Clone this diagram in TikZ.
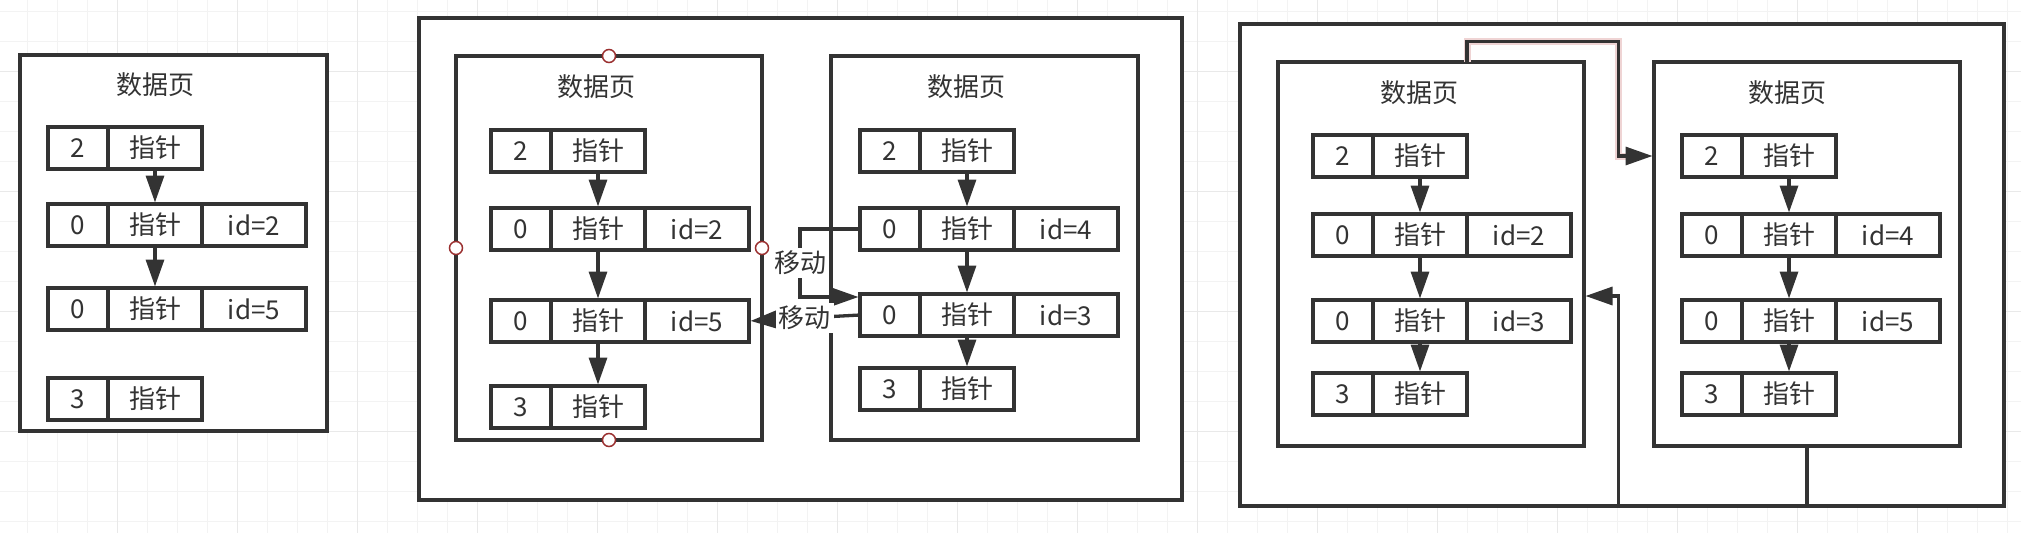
\documentclass[tikz,border=0pt]{standalone}
\usepackage{fontspec}
\setmainfont{Noto Sans CJK SC}
\usetikzlibrary{arrows.meta,positioning}
\definecolor{ink}{HTML}{333333}
\definecolor{gridlo}{HTML}{F3F3F3}
\definecolor{gridhi}{HTML}{E9E9E9}
\definecolor{hdlred}{HTML}{9A2F2F}
\definecolor{glowpink}{HTML}{EFD4D4}
\tikzset{%
    pagebox/.style={draw=ink, fill=white, line width=3.3pt, anchor=north west, inner sep=0pt, outer sep=0pt, minimum width=306pt, minimum height=384pt},
    cell/.style={draw=ink, line width=3.3pt, anchor=north west, inner sep=0pt, outer sep=0pt, minimum height=42pt, text=ink},
    numc/.style={cell, minimum width=60pt},
    ptrc/.style={cell, minimum width=94pt},
    idc/.style={cell, minimum width=104pt},
    hdl/.style={circle, draw=hdlred, fill=white, line width=1.5pt, minimum size=13pt, inner sep=0pt}
}

\begin{document}
\begin{tikzpicture}[x=1pt, y=-1pt,
            font=\fontsize{26pt}{30pt}\selectfont,
            ttl/.style={text=ink},
            lbl/.style={fill=white, text=ink, inner sep=3pt},
            arr/.style={draw=ink, line width=3.3pt, shorten >=1.5pt, -{Triangle[length=27pt,width=18pt]}},
            glow/.style={draw=glowpink, line width=7pt, shorten >=27pt},
            gminor/.style={draw=gridlo, line width=1.5pt},
            gmajor/.style={draw=gridhi, line width=1.5pt}
            ]
            \useasboundingbox (0,0) rectangle (2021,533);
            \fill[white] (0,0) rectangle (2021,533);
            % background grid
            \foreach \gx in {27.3,57.3,...,2021} \draw[gminor] (\gx,0) -- (\gx,533);
            \foreach \gy in {11.7,41.7,...,533} \draw[gminor] (0,\gy) -- (2021,\gy);
            \foreach \gx in {117.3,237.3,...,2021} \draw[gmajor] (\gx,0) -- (\gx,533);
            \foreach \gy in {71.7,191.7,...,533} \draw[gmajor] (0,\gy) -- (2021,\gy);

            % first page
            \node[pagebox, minimum width=307pt, minimum height=376pt] (p1) at (20,55){};
            \node[ttl] (p1t) at (155,85){数据页};
            \node[numc] (p1an) at (48,127){2};
            \node[ptrc, right=0pt of p1an] (p1ap){指针};
            \node[numc] (p1bn) at (48,204){0};
            \node[ptrc, right=0pt of p1bn] (p1bp){指针};
            \node[idc, right=0pt of p1bp] (p1bi){id=2};
            \node[numc] (p1cn) at (48,288){0};
            \node[ptrc, right=0pt of p1cn] (p1cp){指针};
            \node[idc, right=0pt of p1cp] (p1ci){id=5};
            \node[numc] (p1dn) at (48,378){3};
            \node[ptrc, right=0pt of p1dn] (p1dp){指针};
            \draw[arr] (p1ap) -- (p1bp);
            \draw[arr] (p1bp) -- (p1cp);

            % middle: split
            \node[pagebox, minimum width=763pt, minimum height=482pt] (mo) at (419,18){};
            \node[pagebox] (ml) at (456,56){};
            \node[pagebox, minimum width=307pt] (mr) at (831,56){};

            \node[ttl] (mlt) at (596,87){数据页};
            \node[numc] (mlan) at (491,130){2};
            \node[ptrc, right=0pt of mlan] (mlap){指针};
            \node[numc] (mlbn) at (491,208){0};
            \node[ptrc, right=0pt of mlbn] (mlbp){指针};
            \node[idc, right=0pt of mlbp] (mlbi){id=2};
            \node[numc] (mlcn) at (491,300){0};
            \node[ptrc, right=0pt of mlcn] (mlcp){指针};
            \node[idc, right=0pt of mlcp] (mlci){id=5};
            \node[numc] (mldn) at (491,386){3};
            \node[ptrc, right=0pt of mldn] (mldp){指针};
            \draw[arr] (mlap) -- (mlbp);
            \draw[arr] (mlbp) -- (mlcp);
            \draw[arr] (mlcp) -- (mldp);

            \node[ttl] (mrt) at (966,87){数据页};
            \node[numc] (mran) at (860,130){2};
            \node[ptrc, right=0pt of mran] (mrap){指针};
            \node[numc] (mrbn) at (860,208){0};
            \node[ptrc, right=0pt of mrbn] (mrbp){指针};
            \node[idc, right=0pt of mrbp] (mrbi){id=4};
            \node[numc] (mrcn) at (860,294){0};
            \node[ptrc, right=0pt of mrcn] (mrcp){指针};
            \node[idc, right=0pt of mrcp] (mrci){id=3};
            \node[numc] (mrdn) at (860,368){3};
            \node[ptrc, right=0pt of mrdn] (mrdp){指针};
            \draw[arr] (mrap) -- (mrbp);
            \draw[arr] (mrbp) -- (mrcp);
            \draw[arr] (mrcp) -- (mrdp);

            \coordinate (bendA) at (800,297);
            \draw[arr] (mrbn.west) -| (bendA) node[lbl, pos=0.75]{移动} -- (mrcn.west |- bendA);
            \draw[arr] (mrcn.west) -- (mlci.east) node[lbl, midway]{移动};

            \node[hdl] (h1) at (ml.north){};
            \node[hdl] (h2) at (ml.west){};
            \node[hdl] (h3) at (ml.east){};
            \node[hdl] (h4) at (ml.south){};

            % right: linked pages
            \node[pagebox, minimum width=764pt, minimum height=482pt] (ro) at (1240,24){};
            \node[pagebox] (rl) at (1278,62){};
            \node[pagebox] (rr) at (1654,62){};

            \node[ttl] (rlt) at (1419,93){数据页};
            \node[numc] (rlan) at (1313,135){2};
            \node[ptrc, right=0pt of rlan] (rlap){指针};
            \node[numc] (rlbn) at (1313,214){0};
            \node[ptrc, right=0pt of rlbn] (rlbp){指针};
            \node[idc, right=0pt of rlbp] (rlbi){id=2};
            \node[numc] (rlcn) at (1313,300){0};
            \node[ptrc, right=0pt of rlcn] (rlcp){指针};
            \node[idc, right=0pt of rlcp] (rlci){id=3};
            \node[numc] (rldn) at (1313,373){3};
            \node[ptrc, right=0pt of rldn] (rldp){指针};
            \draw[arr] (rlap) -- (rlbp);
            \draw[arr] (rlbp) -- (rlcp);
            \draw[arr] (rlcp) -- (rldp);

            \node[ttl] (rrt) at (1787,93){数据页};
            \node[numc] (rran) at (1682,135){2};
            \node[ptrc, right=0pt of rran] (rrap){指针};
            \node[numc] (rrbn) at (1682,214){0};
            \node[ptrc, right=0pt of rrbn] (rrbp){指针};
            \node[idc, right=0pt of rrbp] (rrbi){id=4};
            \node[numc] (rrcn) at (1682,300){0};
            \node[ptrc, right=0pt of rrcn] (rrcp){指针};
            \node[idc, right=0pt of rrcp] (rrci){id=5};
            \node[numc] (rrdn) at (1682,373){3};
            \node[ptrc, right=0pt of rrdn] (rrdp){指针};
            \draw[arr] (rrap) -- (rrbp);
            \draw[arr] (rrbp) -- (rrcp);
            \draw[arr] (rrcp) -- (rrdp);

            \coordinate (bendC) at (1618.5,41.5);
            \coordinate (bendD) at (1618.5,296);
            \draw[glow] (rlap.east |- rl.north) |- (bendC) |- (rr.west |- rran);
            \draw[arr] (rlap.east |- rl.north) |- (bendC) |- (rr.west |- rran);
            \draw[arr] (rr.south) -- (rr.south |- ro.south) -| (bendD) -- (rl.east |- bendD);
        \end{tikzpicture}
\end{document}
